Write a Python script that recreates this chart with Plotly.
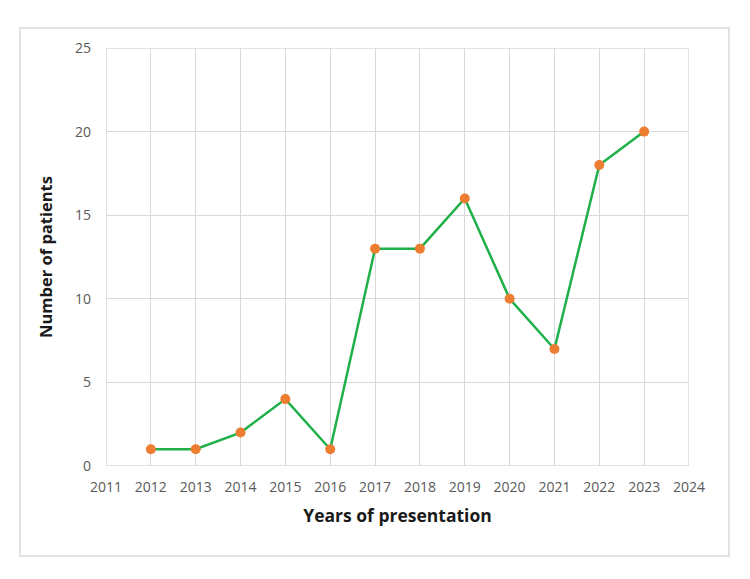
import plotly.graph_objects as go

years = [2012, 2013, 2014, 2015, 2016, 2017, 2018, 2019, 2020, 2021, 2022, 2023]
patients = [1, 1, 2, 4, 1, 13, 13, 16, 10, 7, 18, 20]
x_ticks = list(range(2011, 2025))
y_ticks = [0, 5, 10, 15, 20, 25]

fig = go.Figure()
fig.add_trace(go.Scatter(
    x=years, y=patients, mode="lines+markers",
    line=dict(color="#1fb04a", width=2.5),
    marker=dict(color="#ed7d31", size=10),
    showlegend=False,
))

font_family = "Open Sans, Segoe UI, sans-serif"
fig.update_layout(
    width=750, height=579,
    margin=dict(l=106, r=61, t=48, b=113),
    paper_bgcolor="white", plot_bgcolor="white",
    font=dict(family=font_family, color="#595959", size=14),
    xaxis=dict(
        range=[2011, 2024], tickvals=x_ticks, ticktext=[str(v) for v in x_ticks],
        showgrid=True, gridcolor="#d9d9d9", gridwidth=1,
        zeroline=False, showline=False, ticks="", ticklabelstandoff=11,
        title=dict(text="<b>Years of presentation</b>",
                   font=dict(size=17.5, color="#1a1a1a", family=font_family), standoff=14),
    ),
    yaxis=dict(
        range=[0, 25], tickvals=y_ticks,
        showgrid=True, gridcolor="#d9d9d9", gridwidth=1,
        zeroline=False, showline=False, ticks="", ticklabelstandoff=14,
        title=dict(text="<b>Number of patients</b>",
                   font=dict(size=16.5, color="#1a1a1a", family=font_family), standoff=18),
    ),
    shapes=[dict(type="rect", xref="paper", yref="paper",
                 x0=-0.1475, x1=1.0686, y0=-0.2153, y1=1.0478,
                 line=dict(color="#d9d9d9", width=1.5), layer="below")],
)
fig.add_shape(type="rect", xref="x", yref="y", x0=2011, x1=2024, y0=0, y1=25,
              line=dict(color="#d9d9d9", width=1.5), layer="below")

fig.write_html("out.html")
